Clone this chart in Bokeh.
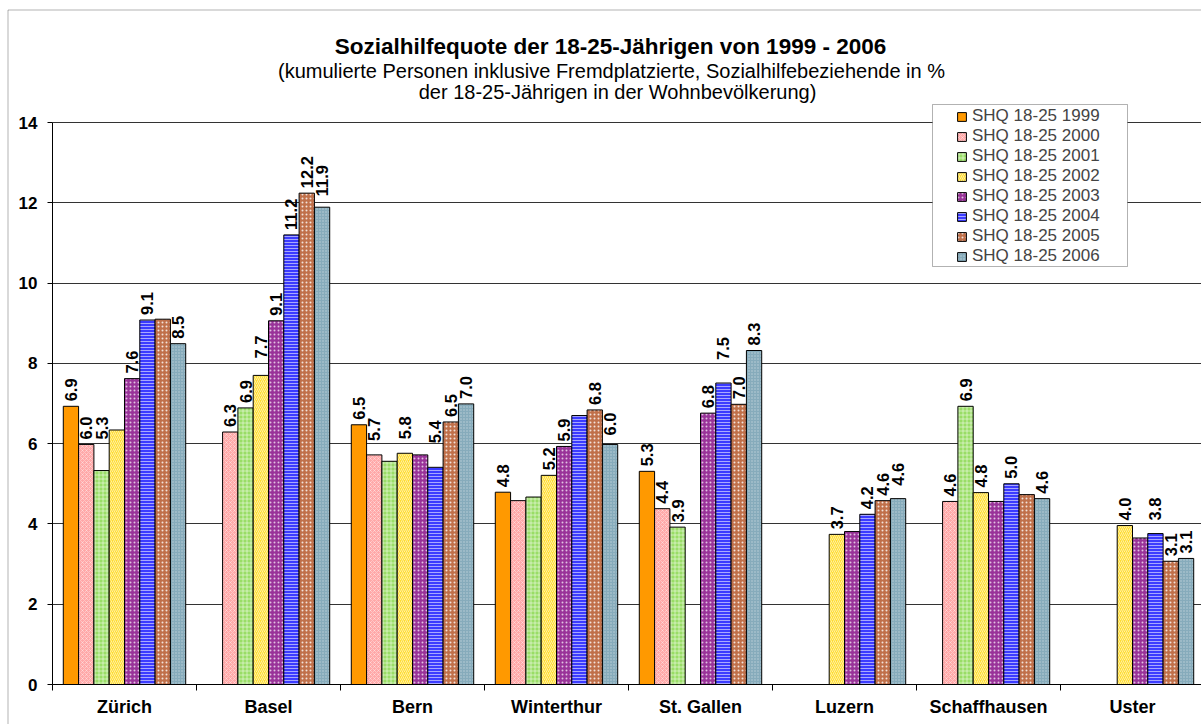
import math
from bokeh.plotting import figure
from bokeh.models import (ColumnDataSource, FixedTicker, Label, Legend, LegendItem,
                          BoxAnnotation, Range1d)
from bokeh.core.properties import value
from bokeh.embed import file_html
from bokeh.resources import INLINE

NAN = float("nan")

cities = ["Zürich", "Basel", "Bern", "Winterthur", "St. Gallen", "Luzern", "Schaffhausen", "Uster"]
years = ["1999", "2000", "2001", "2002", "2003", "2004", "2005", "2006"]

shq_1999 = [6.93, NAN, 6.47, 4.79, 5.31, NAN, NAN, NAN]
shq_2000 = [5.98, 6.29, 5.72, 4.58, 4.38, NAN, 4.56, NAN]
shq_2001 = [5.33, 6.89, 5.56, 4.67, 3.92, NAN, 6.93, NAN]
shq_2002 = [6.34, 7.70, 5.76, 5.21, NAN, 3.74, 4.78, 3.96]
shq_2003 = [7.62, 9.06, 5.72, 5.93, 6.76, 3.81, 4.56, 3.65]
shq_2004 = [9.08, 11.20, 5.41, 6.70, 7.51, 4.24, 5.00, 3.76]
shq_2005 = [9.10, 12.24, 6.54, 6.84, 6.98, 4.58, 4.73, 3.07]
shq_2006 = [8.49, 11.89, 6.99, 5.98, 8.32, 4.63, 4.63, 3.14]

series = [shq_1999, shq_2000, shq_2001, shq_2002, shq_2003, shq_2004, shq_2005, shq_2006]

y_ticks = [0, 2, 4, 6, 8, 10, 12, 14]

# data labels that the reference does not show
hidden_labels = {("Zürich", "2002"), ("Zürich", "2005"), ("Bern", "2001"), ("Bern", "2003"),
                 ("Winterthur", "2000"), ("Winterthur", "2001"), ("Winterthur", "2004"),
                 ("Luzern", "2003"), ("Schaffhausen", "2003"), ("Schaffhausen", "2005"),
                 ("Uster", "2003")}
# extra lift (px) of a few labels in the reference
label_lift = {("Zürich", "2001"): 26, ("Bern", "2000"): 9, ("Bern", "2002"): 9,
              ("Bern", "2004"): 19, ("Basel", "2002"): 12, ("Basel", "2006"): 6,
              ("St. Gallen", "2004"): 18, ("Uster", "2004"): 8, ("Luzern", "2006"): 8,
              ("Winterthur", "2006"): 4}

styles = [
    dict(fill_color="#FF9900", hatch_pattern=" "),
    dict(fill_color="#FFA8A8", hatch_pattern="diagonal_cross", hatch_alpha=0.35, hatch_scale=4),
    dict(fill_color="#99DD66", hatch_pattern="cross", hatch_alpha=0.5, hatch_scale=4),
    dict(fill_color="#FFDD33", hatch_pattern="right_diagonal_line", hatch_alpha=0.55, hatch_scale=4),
    dict(fill_color="#993399", hatch_pattern="dot", hatch_alpha=0.7, hatch_scale=4),
    dict(fill_color="#3B3BFF", hatch_pattern="horizontal_line", hatch_alpha=0.55, hatch_scale=3),
    dict(fill_color="#C0704A", hatch_pattern="dot", hatch_alpha=0.8, hatch_scale=4),
    dict(fill_color="#86ABBB", hatch_pattern="dot", hatch_alpha=0.45, hatch_scale=3),
]

FONT = "Liberation Sans"
W, H = 1201, 724
n_cat = len(cities)
n_ser = len(series)
bar_w = 1.0 / (n_ser + 1.41)

# layout of the plot area within the canvas (pixels)
AX_LEFT, AX_TOP, AX_BOTTOM, CAT_PX = 52, 122, 684, 144
px_per_unit = (AX_BOTTOM - AX_TOP) / 14.0
x_range = Range1d(-AX_LEFT / CAT_PX, (W - AX_LEFT) / CAT_PX)
y_range = Range1d(-(H - AX_BOTTOM) / px_per_unit, 14 + AX_TOP / px_per_unit)

p = figure(width=W, height=H, x_range=x_range, y_range=y_range,
           output_backend="svg", toolbar_location=None,
           min_border_left=0, min_border_right=0, min_border_top=0, min_border_bottom=0)
p.outline_line_color = None
p.background_fill_color = "white"
p.border_fill_color = "white"

# axes (fixed inside the frame)
p.yaxis.fixed_location = 0
p.yaxis.bounds = (0, 14)
p.yaxis.ticker = FixedTicker(ticks=y_ticks)
p.yaxis.major_label_text_font = FONT
p.yaxis.major_label_text_font_style = "bold"
p.yaxis.major_label_text_font_size = "17px"
p.yaxis.major_label_text_color = "black"
p.yaxis.major_tick_out = 5
p.yaxis.major_tick_in = 0
p.yaxis.minor_tick_out = 0
p.yaxis.minor_tick_in = 0
p.yaxis.major_label_standoff = 10
p.yaxis.axis_line_color = "black"
p.yaxis.major_tick_line_color = "black"

centers = [i + 0.5 for i in range(n_cat)]
p.xaxis.fixed_location = 0
p.xaxis.bounds = (0, n_cat)
p.xaxis.ticker = FixedTicker(ticks=centers, minor_ticks=list(range(n_cat + 1)))
p.xaxis.major_label_overrides = {c: name for c, name in zip(centers, cities)}
p.xaxis.major_label_text_font = FONT
p.xaxis.major_label_text_font_style = "bold"
p.xaxis.major_label_text_font_size = "18px"
p.xaxis.major_label_text_color = "black"
p.xaxis.major_tick_out = 0
p.xaxis.major_tick_in = 0
p.xaxis.minor_tick_out = 6
p.xaxis.minor_tick_in = 0
p.xaxis.minor_tick_line_color = "black"
p.xaxis.major_label_standoff = 6
p.xaxis.axis_line_color = "black"

p.xgrid.grid_line_color = None
p.ygrid.ticker = FixedTicker(ticks=y_ticks)
p.ygrid.cross_bounds = (0, n_cat)
p.ygrid.grid_line_color = "#333333"
p.ygrid.grid_line_width = 1

# chart-area border (top & left are inside the window)
p.add_layout(BoxAnnotation(left=7.5, right=3000, top=H - 9.5, bottom=-3000,
                           left_units="screen", right_units="screen",
                           top_units="screen", bottom_units="screen",
                           fill_alpha=0, line_color="black", line_width=1))

renderers = []
for j, (vals, yr, st) in enumerate(zip(series, years, styles)):
    xs, tops, lx, ly, lt, lo = [], [], [], [], [], []
    for i, v in enumerate(vals):
        if math.isnan(v):
            continue
        x = i + 0.5 + (j - (n_ser - 1) / 2) * bar_w
        xs.append(x)
        tops.append(v)
        if (cities[i], yr) not in hidden_labels:
            lx.append(x)
            ly.append(v)
            lt.append(f"{v:.1f}")
            lo.append(-(5 + label_lift.get((cities[i], yr), 0)))
    src = ColumnDataSource(dict(x=xs, top=tops))
    r = p.vbar(x="x", top="top", bottom=0, width=bar_w, source=src, line_color="black",
               line_width=1, hatch_color="white", hatch_weight=1, **st)
    renderers.append(r)
    lsrc = ColumnDataSource(dict(x=lx, y=ly, text=lt, yoff=lo))
    p.text(x="x", y="y", text="text", source=lsrc, angle=math.pi / 2,
           text_align="left", text_baseline="middle", y_offset="yoff",
           text_font=value(FONT), text_font_style="bold", text_font_size="16.5px",
           text_color="black")

# titles (baselines in canvas pixels from the top)
title_lines = [
    ("Sozialhilfequote der 18-25-Jährigen von 1999 - 2006", 610, 46, "22.5px", "bold"),
    ("(kumulierte Personen inklusive Fremdplatzierte, Sozialhilfebeziehende in %", 611, 70, "20px", "normal"),
    ("der 18-25-Jährigen in der Wohnbevölkerung)", 617, 91, "20px", "normal"),
]
for txt, xx, yy, fs, fst in title_lines:
    p.add_layout(Label(x=xx, y=H - yy, x_units="screen", y_units="screen", text=txt,
                       text_align="center", text_baseline="alphabetic", text_font=FONT,
                       text_font_size=fs, text_font_style=fst, text_color="black"))

# legend box + legend
p.add_layout(BoxAnnotation(left=932, right=1127, top=H - 104, bottom=H - 266,
                           left_units="screen", right_units="screen",
                           top_units="screen", bottom_units="screen",
                           fill_color="white", fill_alpha=1, line_color="black", line_width=1))
items = [LegendItem(label=f"SHQ 18-25 {yr}", renderers=[r]) for yr, r in zip(years, renderers)]
legend = Legend(items=items, location=(954, H - 268), label_text_font=FONT,
                label_text_font_size="17px", label_height=20, glyph_height=11, glyph_width=11,
                label_standoff=5, spacing=0, padding=2, margin=0,
                border_line_alpha=0, background_fill_alpha=0)
p.add_layout(legend)

open("out.html", "w").write(file_html(p, INLINE))
